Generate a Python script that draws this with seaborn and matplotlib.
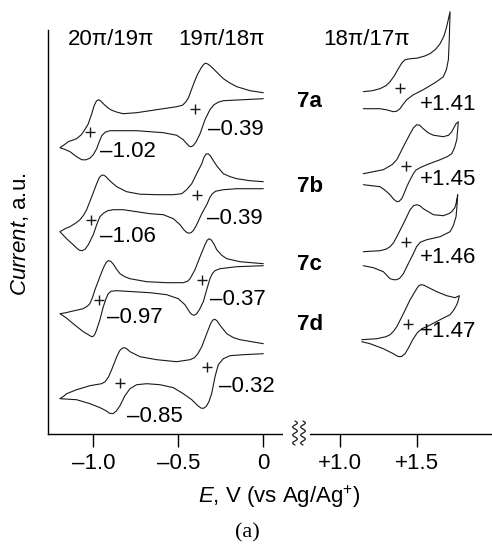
import numpy as np
import pandas as pd
import matplotlib
matplotlib.use("Agg")
import matplotlib.pyplot as plt
from matplotlib.lines import Line2D
from matplotlib.patches import Rectangle
import seaborn as sns

# ---------------- data (E in V vs Ag/Ag+, current in a.u.) ----------------
# reduction region (traces: lower branch right->left, then upper branch left->right)
cv7a_neg_E = [0.000, -0.118, -0.235, -0.265, -0.290, -0.314, -0.343, -0.372, -0.395, -0.410, -0.423, -0.436,
              -0.450, -0.471, -0.510, -0.588, -0.666, -0.745, -0.824, -0.902, -0.930, -0.950, -0.965, -0.980,
              -1.000, -1.020, -1.045, -1.068, -1.098, -1.137, -1.170, -1.196,
              -1.170, -1.147, -1.098, -1.070, -1.050, -1.029, -1.009, -0.995, -0.982, -0.970, -0.958, -0.941,
              -0.915, -0.892, -0.860, -0.824, -0.745, -0.666, -0.588, -0.510, -0.475, -0.455, -0.440, -0.425,
              -0.405, -0.385, -0.365, -0.350, -0.338, -0.325, -0.310, -0.294, -0.265, -0.235, -0.195, -0.156,
              -0.078, 0.000]
cv7a_neg_I = [33.5, 33.4, 33.3, 33.15, 32.9, 32.4, 31.4, 30.0, 29.2, 28.85, 28.7, 28.75,
              29.0, 29.4, 29.85, 30.1, 30.2, 30.3, 30.3, 30.3, 30.15, 29.8, 29.2, 28.5,
              27.9, 27.55, 27.38, 27.4, 27.7, 28.2, 28.45, 28.6,
              28.9, 29.2, 29.5, 29.9, 30.4, 31.0, 32.0, 32.8, 33.25, 33.4, 33.3, 33.0,
              32.6, 32.35, 32.15, 32.0, 32.1, 32.3, 32.5, 32.7, 32.85, 33.2, 33.6, 34.3,
              35.2, 36.0, 36.6, 36.95, 37.05, 36.95, 36.75, 36.5, 36.0, 35.5, 35.05, 34.7,
              34.3, 34.1]

cv7b_neg_E = [0.000, -0.156, -0.235, -0.280, -0.300, -0.315, -0.330, -0.362, -0.392, -0.410, -0.425, -0.440,
              -0.452, -0.465, -0.490, -0.529, -0.588, -0.666, -0.745, -0.824, -0.882, -0.915, -0.940, -0.961,
              -0.980, -1.000, -1.029, -1.048, -1.065, -1.082, -1.100, -1.118, -1.157, -1.196,
              -1.160, -1.137, -1.100, -1.078, -1.055, -1.039, -1.009, -0.980, -0.965, -0.951, -0.938, -0.925,
              -0.912, -0.890, -0.862, -0.804, -0.725, -0.627, -0.529, -0.480, -0.451, -0.421, -0.392, -0.362,
              -0.350, -0.338, -0.325, -0.312, -0.294, -0.270, -0.235, -0.195, -0.156, -0.078, 0.000]
cv7b_neg_I = [24.5, 24.5, 24.4, 24.25, 24.0, 23.6, 23.0, 22.0, 20.9, 20.35, 20.1, 20.05,
              20.15, 20.35, 20.9, 21.5, 21.9, 22.0, 22.2, 22.4, 22.4, 22.3, 22.05, 21.7,
              20.9, 19.9, 18.9, 18.45, 18.3, 18.35, 18.6, 18.9, 19.5, 20.2,
              20.55, 20.7, 21.1, 21.4, 21.9, 22.4, 23.7, 25.0, 25.6, 25.85, 25.85, 25.7,
              25.45, 25.1, 24.7, 24.2, 23.95, 23.9, 23.9, 24.0, 24.4, 25.0, 26.0, 27.0,
              27.6, 27.95, 28.0, 27.8, 27.3, 26.7, 26.0, 25.7, 25.5, 25.3, 25.2]

cv7c_neg_E = [0.000, -0.156, -0.255, -0.285, -0.300, -0.314, -0.333, -0.353, -0.376, -0.392, -0.405, -0.418,
              -0.431, -0.461, -0.500, -0.568, -0.666, -0.765, -0.862, -0.895, -0.912, -0.925, -0.941, -0.961,
              -0.980, -0.992, -1.003, -1.015, -1.029, -1.059, -1.118, -1.160, -1.196,
              -1.160, -1.137, -1.059, -1.035, -1.020, -1.005, -0.990, -0.961, -0.940, -0.925, -0.912, -0.898,
              -0.882, -0.863, -0.843, -0.815, -0.784, -0.686, -0.568, -0.471, -0.445, -0.431, -0.402, -0.372,
              -0.343, -0.330, -0.318, -0.305, -0.290, -0.274, -0.245, -0.215, -0.137, 0.000]
cv7c_neg_I = [16.8, 16.7, 16.5, 16.3, 16.0, 15.5, 14.4, 13.2, 12.4, 12.0, 11.85, 11.9,
              12.1, 12.9, 13.5, 13.9, 14.1, 14.2, 14.3, 14.25, 14.0, 13.5, 12.7, 11.4,
              10.4, 9.9, 9.7, 9.75, 9.9, 10.2, 11.0, 11.6, 12.0,
              12.1, 12.2, 12.5, 12.75, 13.0, 13.6, 14.4, 15.7, 16.6, 17.1, 17.3, 17.25,
              16.95, 16.45, 16.0, 15.7, 15.5, 15.2, 15.1, 15.1, 15.25, 15.5, 16.4, 17.7,
              18.9, 19.35, 19.5, 19.35, 18.95, 18.4, 17.85, 17.5, 17.2, 17.0]

cv7d_neg_E = [0.000, -0.118, -0.196, -0.235, -0.265, -0.284, -0.304, -0.320, -0.335, -0.350, -0.365, -0.382,
              -0.421, -0.471, -0.529, -0.608, -0.686, -0.745, -0.784, -0.814, -0.843, -0.865, -0.885, -0.905,
              -0.925, -0.960, -1.019, -1.098, -1.196,
              -1.170, -1.157, -1.098, -1.020, -0.951, -0.930, -0.910, -0.892, -0.862, -0.845, -0.830, -0.815,
              -0.800, -0.784, -0.725, -0.627, -0.510, -0.431, -0.405, -0.385, -0.362, -0.333, -0.310, -0.298,
              -0.286, -0.273, -0.255, -0.215, -0.175, -0.137, 0.000]
cv7d_neg_I = [8.0, 7.9, 7.8, 7.5, 6.9, 5.7, 4.0, 3.2, 2.75, 2.55, 2.55, 2.75,
              3.4, 4.0, 4.6, 4.9, 5.0, 4.9, 4.5, 3.8, 2.8, 2.25, 2.0, 2.05,
              2.3, 2.6, 3.0, 3.4, 3.5,
              3.8, 4.0, 4.4, 4.8, 5.0, 5.2, 5.7, 6.4, 7.7, 8.3, 8.55, 8.6,
              8.45, 8.2, 7.7, 7.4, 7.2, 7.4, 7.6, 8.0, 8.7, 10.0, 11.0, 11.35,
              11.45, 11.3, 10.85, 10.0, 9.6, 9.4, 9.0]

# oxidation region (traces: upper branch left->right, then lower branch right->left)
cv7a_pos_E = [1.152, 1.210, 1.261, 1.300, 1.327, 1.355, 1.381, 1.405, 1.425, 1.460, 1.501, 1.550, 1.588,
              1.625, 1.654, 1.680, 1.697, 1.719,
              1.714, 1.708, 1.695, 1.675, 1.640, 1.610, 1.544, 1.480, 1.436, 1.410, 1.392, 1.370, 1.348,
              1.325, 1.300, 1.261, 1.152]
cv7a_pos_I = [34.2, 34.3, 34.5, 34.8, 35.2, 35.8, 36.5, 37.1, 37.4, 37.5, 37.55, 37.75, 38.0,
              38.45, 39.0, 39.8, 40.7, 42.2,
              39.5, 37.4, 36.4, 35.7, 35.3, 35.0, 34.4, 33.9, 33.4, 32.9, 32.5, 32.25, 32.2,
              32.3, 32.4, 32.5, 32.5]

cv7b_pos_E = [1.152, 1.283, 1.340, 1.371, 1.414, 1.458, 1.480, 1.501, 1.520, 1.544, 1.575, 1.610, 1.675,
              1.710, 1.730, 1.758, 1.773,
              1.768, 1.763, 1.748, 1.730, 1.700, 1.654, 1.567, 1.523, 1.495, 1.479, 1.455, 1.436, 1.418,
              1.403, 1.387, 1.371, 1.350, 1.327, 1.290, 1.261, 1.152]
cv7b_pos_I = [26.0, 26.4, 26.9, 27.4, 28.7, 30.0, 30.6, 30.9, 30.85, 30.5, 30.1, 29.85, 29.7,
              29.85, 30.2, 31.0, 31.2,
              30.3, 29.4, 28.6, 28.0, 27.7, 27.4, 26.9, 26.6, 26.35, 26.0, 25.3, 24.7, 24.0,
              23.5, 23.25, 23.2, 23.45, 23.9, 24.4, 24.7, 24.9]

cv7c_pos_E = [1.152, 1.261, 1.300, 1.327, 1.350, 1.371, 1.414, 1.458, 1.480, 1.501, 1.522, 1.544, 1.610,
              1.675, 1.710, 1.730, 1.750, 1.758, 1.769,
              1.764, 1.758, 1.740, 1.719, 1.654, 1.567, 1.525, 1.500, 1.479, 1.446, 1.414, 1.390, 1.371,
              1.350, 1.327, 1.283, 1.218, 1.152]
cv7c_pos_I = [18.2, 18.3, 18.45, 18.7, 19.1, 19.7, 21.0, 22.4, 22.8, 22.9, 22.8, 22.5, 21.9,
              21.8, 22.0, 22.2, 22.6, 23.0, 23.9,
              22.7, 21.7, 20.8, 20.2, 19.7, 19.4, 19.15, 18.7, 18.0, 17.0, 16.0, 15.55, 15.4,
              15.4, 15.5, 16.2, 16.6, 16.8]

cv7d_pos_E = [1.142, 1.240, 1.300, 1.327, 1.350, 1.371, 1.414, 1.458, 1.501, 1.515, 1.530, 1.548, 1.567,
              1.632, 1.697, 1.752, 1.780,
              1.772, 1.763, 1.740, 1.719, 1.654, 1.580, 1.535, 1.505, 1.475, 1.448, 1.425, 1.405, 1.392,
              1.375, 1.348, 1.283, 1.196, 1.142]
cv7d_pos_I = [9.4, 9.5, 9.7, 9.9, 10.25, 10.7, 12.0, 13.4, 14.5, 14.8, 14.9, 14.85, 14.7,
              14.2, 13.8, 13.6, 13.8,
              13.3, 12.9, 12.3, 11.9, 11.4, 10.8, 10.5, 10.1, 9.4, 8.6, 8.0, 7.75, 7.7,
              7.75, 8.0, 8.5, 9.0, 9.2]

# half-wave potential markers
plus_E = [-1.020, -0.399, -1.015, -0.392, -0.965, -0.362, -0.843, -0.333, 1.392, 1.431, 1.431, 1.446]
plus_I = [30.2, 32.5, 21.4, 23.9, 13.4, 15.4, 5.1, 6.7, 34.6, 26.8, 19.2, 11.0]

# value labels
left_labels = ["\u20130.39", "\u20131.02", "\u20130.39", "\u20131.06",
               "\u20130.37", "\u20130.97", "\u20130.32", "\u20130.85"]
left_label_E = [-0.324, -0.961, -0.333, -0.961, -0.314, -0.921, -0.261, -0.804]
left_label_I = [29.9, 27.7, 21.0, 19.2, 12.9, 11.1, 4.2, 1.2]

right_labels = ["+1.41", "+1.45", "+1.46", "+1.47"]
right_label_E = [1.523, 1.523, 1.523, 1.523]
right_label_I = [32.4, 24.9, 17.1, 9.7]

compounds = ["7a", "7b", "7c", "7d"]
compound_E = [0.196, 0.196, 0.196, 0.196]
compound_I = [32.7, 24.2, 16.4, 10.4]

headers = ["20\u03c0/19\u03c0", "19\u03c0/18\u03c0", "18\u03c0/17\u03c0"]
header_E = [-0.897, -0.245, 1.174]
header_I = [38.9, 38.9, 38.9]

tick_E = [-1.0, -0.5, 0.0, 1.0, 1.5]
tick_labels = ["\u20131.0", "\u20130.5", "0", "+1.0", "+1.5"]

# ---------------- build table ----------------
traces = {
    "7a_neg": (cv7a_neg_E, cv7a_neg_I), "7b_neg": (cv7b_neg_E, cv7b_neg_I),
    "7c_neg": (cv7c_neg_E, cv7c_neg_I), "7d_neg": (cv7d_neg_E, cv7d_neg_I),
    "7a_pos": (cv7a_pos_E, cv7a_pos_I), "7b_pos": (cv7b_pos_E, cv7b_pos_I),
    "7c_pos": (cv7c_pos_E, cv7c_pos_I), "7d_pos": (cv7d_pos_E, cv7d_pos_I),
}
frames = []
for name, (e, i) in traces.items():
    frames.append(pd.DataFrame({"E": e, "I": i, "trace": name}))
df = pd.concat(frames, ignore_index=True)

# ---------------- style ----------------
sns.set_theme(style="white")
plt.rcParams["font.family"] = ["Liberation Sans", "DejaVu Sans"]
plt.rcParams["mathtext.fontset"] = "custom"
plt.rcParams["mathtext.rm"] = "Liberation Sans"
plt.rcParams["mathtext.it"] = "Liberation Sans:italic"
FS = 16
INK = "#1a1a1a"

fig = plt.figure(figsize=(4.92, 5.50), dpi=100)
W, H = 492.0, 550.0
ax = fig.add_axes([47.7 / W, (H - 433.7) / H, (W - 47.7) / W, (433.7 - 30) / H])


# broken potential axis: compress the empty 0.25..0.85 V range
def fwd(e):
    e = np.asarray(e, dtype=float)
    return np.where(e <= 0.25, e,
                    np.where(e >= 0.85, 0.451 + 0.9 * (e - 1.0),
                             0.25 + (e - 0.25) * (0.066 / 0.6)))


def inv(u):
    u = np.asarray(u, dtype=float)
    return np.where(u <= 0.25, u,
                    np.where(u >= 0.316, 1.0 + (u - 0.451) / 0.9,
                             0.25 + (u - 0.25) * (0.6 / 0.066)))


ax.set_xscale("function", functions=(fwd, inv))
ax.set_xlim(-1.268, 1.993)
ax.set_ylim(0, 40.37)

sns.lineplot(data=df, x="E", y="I", units="trace", estimator=None, sort=False,
             color=INK, linewidth=0.8, legend=False, ax=ax)
for ln in ax.lines:
    ln.set_clip_on(False)
    ln.set_solid_joinstyle("round")
    ln.set_solid_capstyle("round")

sns.scatterplot(x=plus_E, y=plus_I, marker="+", s=60, linewidth=1.0, color=INK,
                ax=ax, legend=False, clip_on=False, zorder=4)

for t, e, i in zip(left_labels, left_label_E, left_label_I):
    ax.text(e, i, t, fontsize=FS, ha="left", va="baseline", color="black")
for t, e, i in zip(right_labels, right_label_E, right_label_I):
    ax.text(e, i, t, fontsize=FS, ha="left", va="baseline", color="black")
for t, e, i in zip(compounds, compound_E, compound_I):
    ax.text(e, i, t, fontsize=FS, fontweight="bold", ha="left", va="baseline", color="black")
for t, e, i in zip(headers, header_E, header_I):
    ax.text(e, i, t, fontsize=FS, ha="center", va="baseline", color="black")

# axes styling
for s in ["top", "right"]:
    ax.spines[s].set_visible(False)
for s in ["left", "bottom"]:
    ax.spines[s].set_color("black")
    ax.spines[s].set_linewidth(1.0)
ax.set_yticks([])
ax.set_xticks(tick_E)
ax.set_xticklabels(tick_labels)
ax.xaxis.set_minor_locator(matplotlib.ticker.NullLocator())
ax.tick_params(axis="x", direction="out", length=9.5, width=1.0, color="black",
               labelsize=FS, pad=4.5, bottom=True, labelcolor="black")
ax.set_xlabel("")
ax.set_ylabel("")

# axis break (gap + squiggles)
ax.add_patch(Rectangle(((283 - 47.7) / 444.3, -0.02), (310 - 283) / 444.3, 0.04,
                       transform=ax.transAxes, facecolor="white", edgecolor="none",
                       clip_on=False, zorder=5))
tt = np.linspace(0, 1, 120)
for x0 in (295.0, 303.0):
    xs = (x0 + 2.3 * np.sin(2 * np.pi * 3 * tt)) / W
    ys = (H - (421 + 24 * tt)) / H
    fig.add_artist(Line2D(xs, ys, color=INK, linewidth=0.9, zorder=6))

# axis titles
fig.text(20 / W, (H - 234) / H, "$\\mathit{Current}$, a.u.", rotation=90,
         ha="center", va="center", fontsize=FS, color="black")
fig.text(279 / W, (H - 503.3) / H, "$\\mathit{E}$, V (vs Ag/Ag$^{+}$)",
         ha="center", va="baseline", fontsize=FS, color="black")
fig.text(247 / W, (H - 537) / H, "(a)", ha="center", va="baseline", fontsize=FS,
         family=["Liberation Serif", "DejaVu Serif"], color="black")

fig.savefig("out.png", dpi=100)
